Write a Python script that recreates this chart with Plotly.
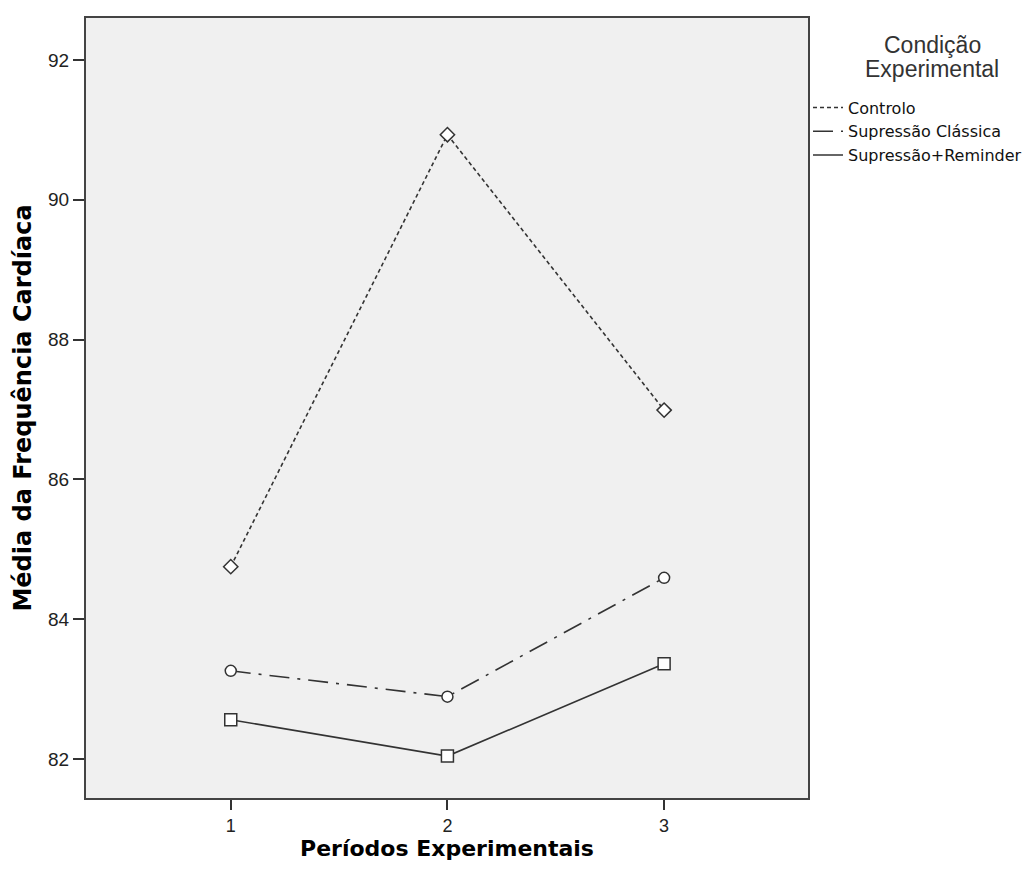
import plotly.graph_objects as go

periods = [1, 2, 3]
series_names = ["Controlo", "Supressão Clássica", "Supressão+Reminder"]
controlo = [84.75, 90.93, 86.99]
supressao_classica = [83.26, 82.89, 84.59]
supressao_reminder = [82.56, 82.04, 83.36]
y_ticks = [82, 84, 86, 88, 90, 92]
legend_title = ["Condição", "Experimental"]

values = [controlo, supressao_classica, supressao_reminder]
dashes = ["4px,3px", "20px,8px,3px,8px", "solid"]
symbols = ["diamond", "circle", "square"]
msizes = [11, 11, 12]

LINE = "#333333"
fig = go.Figure()
for name, vals, dash in zip(series_names, values, dashes):
    fig.add_trace(go.Scatter(
        x=periods, y=vals, mode="lines", name=name, legendgroup=name,
        line=dict(color=LINE, width=1.6, dash=dash),
    ))
for name, vals, sym, ms in zip(series_names, values, symbols, msizes):
    fig.add_trace(go.Scatter(
        x=periods, y=vals, mode="markers", name=name, legendgroup=name,
        showlegend=False,
        marker=dict(symbol=sym, size=ms, color="white",
                    line=dict(color=LINE, width=1.5)),
    ))

# legend title, two centred lines
for i, line in enumerate(legend_title):
    fig.add_annotation(
        xref="paper", yref="paper", x=1.172, y=0.9654 - i * 0.0308,
        xanchor="center", yanchor="middle", showarrow=False,
        text=line,
        font=dict(family="Liberation Sans, Arial, sans-serif", size=23, color="#333333"),
    )

# the page body has an 8px margin, so the figure is drawn 8px smaller
fig.update_layout(
    width=1027, height=877,
    margin=dict(l=78, r=227, t=10, b=87, autoexpand=False),
    paper_bgcolor="white",
    plot_bgcolor="#f0f0f0",
    font=dict(family="Liberation Sans, Arial, sans-serif", color="#222222"),
    showlegend=True,
    legend=dict(
        x=1.0, xanchor="left", y=0.907, yanchor="top",
        bgcolor="rgba(0,0,0,0)",
        itemwidth=30,
        tracegroupgap=0,
        font=dict(family="DejaVu Sans, sans-serif", size=16, color="#111111"),
    ),
    xaxis=dict(
        range=[0.332, 3.664], automargin=False,
        tickmode="array", tickvals=periods, ticktext=[str(p) for p in periods],
        ticks="outside", ticklen=10, tickwidth=1.5, tickcolor="#333333",
        tickfont=dict(size=18, color="#222222"),
        showline=True, linecolor="#444444", linewidth=2, mirror=True,
        showgrid=False, zeroline=False,
        title=dict(text="Períodos Experimentais", standoff=2,
                   font=dict(family="DejaVu Sans, sans-serif", size=22, color="#000000", weight="bold")),
    ),
    yaxis=dict(
        range=[81.44, 92.6], automargin=False,
        tickmode="array", tickvals=y_ticks, ticktext=[str(t) for t in y_ticks],
        ticks="outside", ticklen=11, tickwidth=1.5, tickcolor="#333333",
        tickfont=dict(size=19, color="#222222"),
        showline=True, linecolor="#444444", linewidth=2, mirror=True,
        showgrid=False, zeroline=False,
        title=dict(text="Média da Frequência Cardíaca", standoff=10,
                   font=dict(family="DejaVu Sans, sans-serif", size=24, color="#000000", weight="bold")),
    ),
)

fig.write_html("out.html")
